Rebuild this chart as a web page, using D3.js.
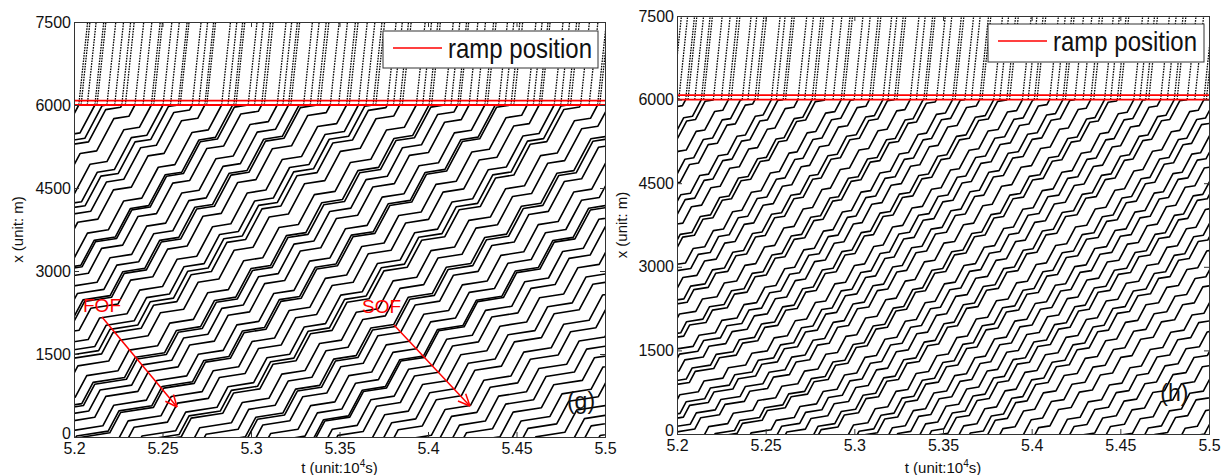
<!DOCTYPE html>
<html><head><meta charset="utf-8">
<script src="https://cdn.jsdelivr.net/npm/d3@7"></script>
<style>body{margin:0;background:#fff;} svg{display:block;font-family:"Liberation Sans",Arial,sans-serif;}</style>
</head><body><svg id="c" width="1222" height="475"></svg>
<script>
// ---------- data ----------
const xTicks = [5.2, 5.25, 5.3, 5.35, 5.4, 5.45, 5.5];
const yTicks = [0, 1500, 3000, 4500, 6000, 7500];
const rampLines = [6000, 6080];
const legendLabel = "ramp position";

// times (s) at which mainline vehicles pass x = 6000 m
const mainCrossG = [51950,52027,52118,52186,52270,52344,52437,52503,52589,52668,52739,52834,52903,52984,53060,53148,53212,53297,53375,53448,53540,53607,53690,53770,53840,53934,54006,54093,54168,54232,54321,54399,54469,54560,54628,54713,54790,54862,54958,55024,55107,55186,55259,55349,55418,55502,55578,55665,55731,55812,55894,55965,56058,56125,56211,56285,56365,56453,56518,56604,56682,56752,56843,56912,56996,57073,57146,57240,57308,57390,57468];
// times (s) at which ramp vehicles appear at x = 6000 m
const rampInG = [52040,52075,52130,52230,52290,52390,52450,52545,52600,52705,52750,52870,52915,53020,53075,53180,53225,53335,53390,53495,53555,53650,53705,53805,53855,53970,54020,54130,54180,54275,54335,54435,54485,54595,54640,54750,54805,54910,54970];
// stop-and-go waves: time (s) each wave passes x = 0, and slow-down duration (s) there
const waveAtZeroG = [51650,52020,52390,52760,53130,53500,53870,54240,54610,54980,55350,55720,56090,56460,56830,57200];
const waveStopG   = [165,205,220,210,180,165,160,170,190,200,190,175,165,170,165,160];

const mainCrossH = [51975,52049,52137,52205,52290,52368,52440,52532,52599,52682,52762,52832,52926,52999,53085,53161,53226,53315,53392,53463,53554,53623,53707,53786,53860,53948,54015,54101,54176,54243,54333,54411,54483,54576,54643,54727,54804,54877,54971,55038,55120,55199,55270,55360,55429,55513,55589,55676,55742,55823,55905,55976,56069,56136,56222,56296,56376,56464,56529,56615,56693,56763,56854,56923,57007,57084,57157,57251,57319,57401,57479];
const rampInH = [52010,52062,52100,52150,52250,52305,52400,52455,52560,52612,52720,52777,52880,52940,53040,53100,53190,53240,53350,53405,53500,53568,53660,53720,53820,53875,53980,54030,54140,54190,54290,54350,54445,54498,54610,54660,54765,54820,54920,54985];
const waveAtZeroH = [51600,51806,52012,52218,52424,52630,52836,53042,53248,53454,53660,53866,54072,54278,54484,54690,54896,55102,55308,55514,55720,55926,56132,56338,56544,56750,56956,57162,57368];
const waveStopH   = [85,95,115,125,130,120,110,95,85,80,85,80,75,85,90,85,80,90,95,90,85,80,85,80,85,80,85,80,85];

// ---------- layout ----------
const panels = [
  {id:"g", L:74, R:605, T:22, B:437, main:mainCrossG, ramp:rampInG, wa:waveAtZeroG, wd:waveStopG,
   model:{vf:6.0, vs:0.5, w:3.5, shrink:0.4, vup:30},
   legend:{x:383, y:31, w:215, h:37}, tag:{t:5.4785, x:500},
   ann:[{txt:"FOF", tt:5.2051, tx:2259, t0:5.2158, x0:2169, t1:5.2582, x1:542},
        {txt:"SOF", tt:5.3627, tx:2241, t0:5.3808, x0:2024, t1:5.4237, x1:560}],
   ytitleX:18, xtitleY:473},
  {id:"h", L:677, R:1209, T:16, B:434, main:mainCrossH, ramp:rampInH, wa:waveAtZeroH, wd:waveStopH,
   model:{vf:6.0, vs:0.5, w:3.5, shrink:0.35, vup:30},
   legend:{x:988, y:24, w:216, h:38}, tag:{t:5.4725, x:590},
   ann:[], ytitleX:622, xtitleY:473}
];

const svg = d3.select("#c");

function simulate(T, wa, wd, m) {
  let t = T, x = 6000, prev = null;
  const pts = [[t, x]];
  while (x > -50 && t > 51400) {
    let inside = false;
    for (let k = 0; k < wa.length; k++) {
      const e = wa[k] - x / m.w;
      const D = wd[k] * (1 - m.shrink * x / 6000);
      if (t >= e && t <= e + D) { inside = true; break; }
    }
    const v = inside ? m.vs : m.vf;
    if (prev !== null && v !== prev) pts.push([t, x]);
    prev = v;
    t -= 1; x -= v;
  }
  pts.push([t, x]);
  return pts;
}

panels.forEach(p => {
  const xs = d3.scaleLinear().domain([5.2, 5.5]).range([p.L, p.R]);
  const ys = d3.scaleLinear().domain([0, 7500]).range([p.B, p.T]);
  const g = svg.append("g");
  const clipId = "clip" + p.id;
  svg.append("clipPath").attr("id", clipId).append("rect")
    .attr("x", p.L).attr("y", p.T).attr("width", p.R - p.L).attr("height", p.B - p.T);
  const plot = g.append("g").attr("clip-path", `url(#${clipId})`);

  const line = d3.line().x(d => xs(d[0] / 1e4)).y(d => ys(d[1]));

  // upper (free flow) trajectories
  const upper = p.main.concat(p.ramp);
  plot.selectAll("path.up").data(upper).join("path").attr("class", "up")
    .attr("d", T => line([[T, 6000], [T + 1500 / p.model.vup, 7500]]))
    .attr("fill", "none").attr("stroke", "#000").attr("stroke-width", 1.3)
    .attr("stroke-dasharray", "1.6,1.1");

  // lower (congested) trajectories
  plot.selectAll("path.low").data(p.main).join("path").attr("class", "low")
    .attr("d", T => line(simulate(T, p.wa, p.wd, p.model)))
    .attr("fill", "none").attr("stroke", "#000").attr("stroke-width", 1.6)
    .attr("stroke-linejoin", "round");

  // ramp lines
  plot.selectAll("line.ramp").data(rampLines).join("line").attr("class", "ramp")
    .attr("x1", p.L).attr("x2", p.R).attr("y1", d => ys(d)).attr("y2", d => ys(d))
    .attr("stroke", "#ff0000").attr("stroke-width", 1.8);

  // axes (inner ticks on all sides)
  const ax = [
    d3.axisBottom(xs).tickValues(xTicks).tickFormat(d => String(d)).tickSize(-5).tickPadding(6),
    d3.axisTop(xs).tickValues(xTicks).tickFormat("").tickSize(-5),
    d3.axisLeft(ys).tickValues(yTicks).tickFormat(d => String(d)).tickSize(-5).tickPadding(3),
    d3.axisRight(ys).tickValues(yTicks).tickFormat("").tickSize(-5)
  ];
  const tr = [`translate(0,${p.B})`, `translate(0,${p.T})`, `translate(${p.L},0)`, `translate(${p.R},0)`];
  ax.forEach((a, i) => {
    const gg = g.append("g").attr("transform", tr[i]).call(a);
    gg.selectAll("path,line").attr("stroke", "#333");
    gg.selectAll("text").attr("fill", "#111").style("font-size", "16px")
      .style("font-family", '"Liberation Sans",Arial,sans-serif');
    if (i === 2) gg.selectAll("text").filter(d => d === 0).attr("dy", "0.1em");
  });

  // legend
  const lg = g.append("g");
  lg.append("rect").attr("x", p.legend.x).attr("y", p.legend.y).attr("width", p.legend.w).attr("height", p.legend.h)
    .attr("fill", "#fff").attr("stroke", "#333").attr("stroke-width", 1);
  lg.append("line").attr("x1", p.legend.x + 10).attr("x2", p.legend.x + 59)
    .attr("y1", p.legend.y + 17).attr("y2", p.legend.y + 17).attr("stroke", "#ff0000").attr("stroke-width", 1.6);
  lg.append("text").attr("transform", `translate(${p.legend.x + 65},${p.legend.y + 27}) scale(1,1.15)`)
    .text(legendLabel).style("font-size", "24px").attr("fill", "#111");

  // panel tag
  g.append("text").attr("x", xs(p.tag.t)).attr("y", ys(p.tag.x)).text(`(${p.id})`)
    .style("font-size", "23px").attr("fill", "#111");

  // annotations
  p.ann.forEach(a => {
    g.append("text").attr("x", xs(a.tt)).attr("y", ys(a.tx)).text(a.txt)
      .style("font-size", "19px").attr("fill", "#ff0000");
    const X0 = xs(a.t0), Y0 = ys(a.x0), X1 = xs(a.t1), Y1 = ys(a.x1);
    g.append("line").attr("x1", X0).attr("y1", Y0).attr("x2", X1).attr("y2", Y1)
      .attr("stroke", "#ff0000").attr("stroke-width", 1.5);
    const ang = Math.atan2(Y1 - Y0, X1 - X0), L = 13, s = 0.42;
    [ang + Math.PI - s, ang + Math.PI + s].forEach(b => {
      g.append("line").attr("x1", X1).attr("y1", Y1)
        .attr("x2", X1 + L * Math.cos(b)).attr("y2", Y1 + L * Math.sin(b))
        .attr("stroke", "#ff0000").attr("stroke-width", 1.5);
    });
  });

  // axis titles
  const xt = g.append("text").attr("x", (p.L + p.R) / 2).attr("y", p.xtitleY).attr("text-anchor", "middle")
    .style("font-size", "15px").attr("fill", "#111");
  xt.append("tspan").text("t (unit:10");
  xt.append("tspan").attr("dy", -6).style("font-size", "10px").text("4");
  xt.append("tspan").attr("dy", 6).text("s)");
  g.append("text").attr("transform", `translate(${p.ytitleX + 5},${(p.T + p.B) / 2}) rotate(-90)`)
    .attr("text-anchor", "middle").style("font-size", "15px").attr("fill", "#111").text("x (unit: m)");
});
</script></body></html>
